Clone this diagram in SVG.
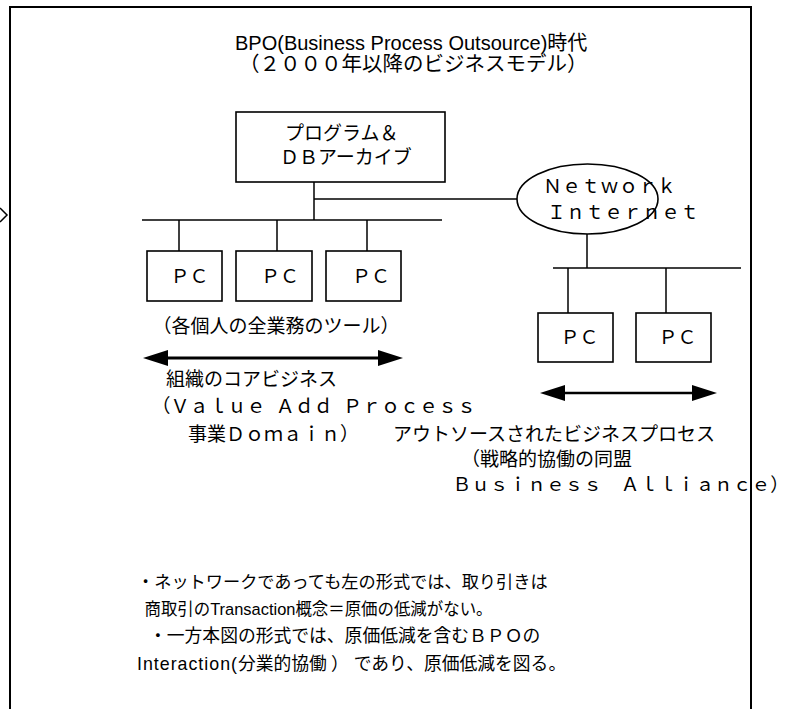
<svg xmlns="http://www.w3.org/2000/svg" width="803" height="709" viewBox="0 0 803 709">
<defs>
<style>
.ln{fill:none;stroke:#000;stroke-width:1.5}
.box{fill:#fff;stroke:#000;stroke-width:1.6}
.t{font-family:"Liberation Sans","Noto Sans CJK JP",sans-serif;fill:#000}
.m{font-size:19px;word-spacing:5px}
.b{font-size:17.2px}
.h{font-size:20px}
</style>
<marker id="ah" markerUnits="userSpaceOnUse" markerWidth="26" markerHeight="18" refX="0" refY="8" orient="auto-start-reverse" viewBox="0 0 26 16">
<path d="M0,0 L25,8 L0,16 z" fill="#000"/>
</marker>
</defs>
<rect width="803" height="709" fill="#fff"/>
<g id="frame">
<path class="ln" style="stroke-width:2" d="M10,712 V7 H751 V712"/>
<polyline class="ln" points="0,208 7,215 0,222"/>
</g>
<g id="title">
<text class="t h" x="235" y="50">BPO(Business Process Outsource)時代</text>
<text class="t h" style="font-size:20.5px" x="239" y="71">（２０００年以降のビジネスモデル）</text>
</g>
<g id="connectors">
<line class="ln" x1="314" y1="182" x2="314" y2="220"/>
<line class="ln" x1="314" y1="199" x2="517" y2="199"/>
<line class="ln" x1="142" y1="220" x2="442" y2="220"/>
<line class="ln" x1="179" y1="220" x2="179" y2="251"/>
<line class="ln" x1="277" y1="220" x2="277" y2="251"/>
<line class="ln" x1="367" y1="220" x2="367" y2="251"/>
<line class="ln" x1="587" y1="234" x2="587" y2="268"/>
<line class="ln" x1="553" y1="268" x2="741" y2="268"/>
<line class="ln" x1="568" y1="268" x2="568" y2="313"/>
<line class="ln" x1="666" y1="268" x2="666" y2="313"/>
<line class="ln" style="stroke-width:3" x1="168" y1="358" x2="378" y2="358" marker-start="url(#ah)" marker-end="url(#ah)"/>
<line class="ln" style="stroke-width:2.5" x1="565" y1="393" x2="692" y2="393" marker-start="url(#ah)" marker-end="url(#ah)"/>
</g>
<g id="db">
<rect class="box" x="236" y="112" width="209" height="70"/>
<text class="t m" x="285" y="140">プログラム＆</text>
<text class="t m" x="280" y="164">ＤＢアーカイブ</text>
</g>
<g id="network">
<ellipse class="box" cx="587.5" cy="199" rx="70.5" ry="35" style="fill:none"/>
<text class="t m" x="543" y="193">Ｎｅｔｗｏｒｋ</text>
<text class="t m" x="547" y="219">Ｉｎｔｅｒｎｅｔ</text>
</g>
<g id="pc1">
<rect class="box" x="147" y="251" width="75" height="50"/>
<text class="t m" x="170.5" y="283">ＰＣ</text>
</g>
<g id="pc2">
<rect class="box" x="236" y="251" width="76" height="50"/>
<text class="t m" x="261" y="283">ＰＣ</text>
</g>
<g id="pc3">
<rect class="box" x="326" y="251" width="75" height="50"/>
<text class="t m" x="352" y="283">ＰＣ</text>
</g>
<g id="pc4">
<rect class="box" x="538" y="313" width="75" height="49"/>
<text class="t m" x="560.5" y="344">ＰＣ</text>
</g>
<g id="pc5">
<rect class="box" x="636" y="313" width="75" height="49"/>
<text class="t m" x="658.5" y="344">ＰＣ</text>
</g>
<g id="labels">
<text class="t m" x="152.5" y="333">（各個人の全業務のツール）</text>
<text class="t m" x="166" y="386">組織のコアビジネス</text>
<text class="t m" x="151.5" y="413">（Ｖａｌｕｅ Ａｄｄ Ｐｒｏｃｅｓｓ</text>
<text class="t m" x="188" y="441">事業Ｄｏｍａｉｎ）</text>
<text class="t m" x="393" y="441">アウトソースされたビジネスプロセス</text>
<text class="t m" x="461" y="466">（戦略的協働の同盟</text>
<text class="t m" style="font-size:18.7px" x="452.5" y="491">Ｂｕｓｉｎｅｓｓ　Ａｌｌｉａｎｃｅ）</text>
</g>
<g id="notes">
<text class="t b" x="137" y="588">・ネットワークであっても左の形式では、取り引きは</text>
<text class="t b" x="144.5" y="615" textLength="348" lengthAdjust="spacingAndGlyphs">商取引のTransaction概念＝原価の低減がない。</text>
<text class="t b" style="font-size:17.8px" x="149" y="642">・一方本図の形式では、原価低減を含むＢＰＯの</text>
<text class="t b" style="font-size:17.8px" x="137" y="670"><tspan letter-spacing="1">Interaction(</tspan>分業的協働<tspan dx="4">）</tspan><tspan dx="5">であり、原価低減を図る。</tspan></text>
</g>
</svg>
